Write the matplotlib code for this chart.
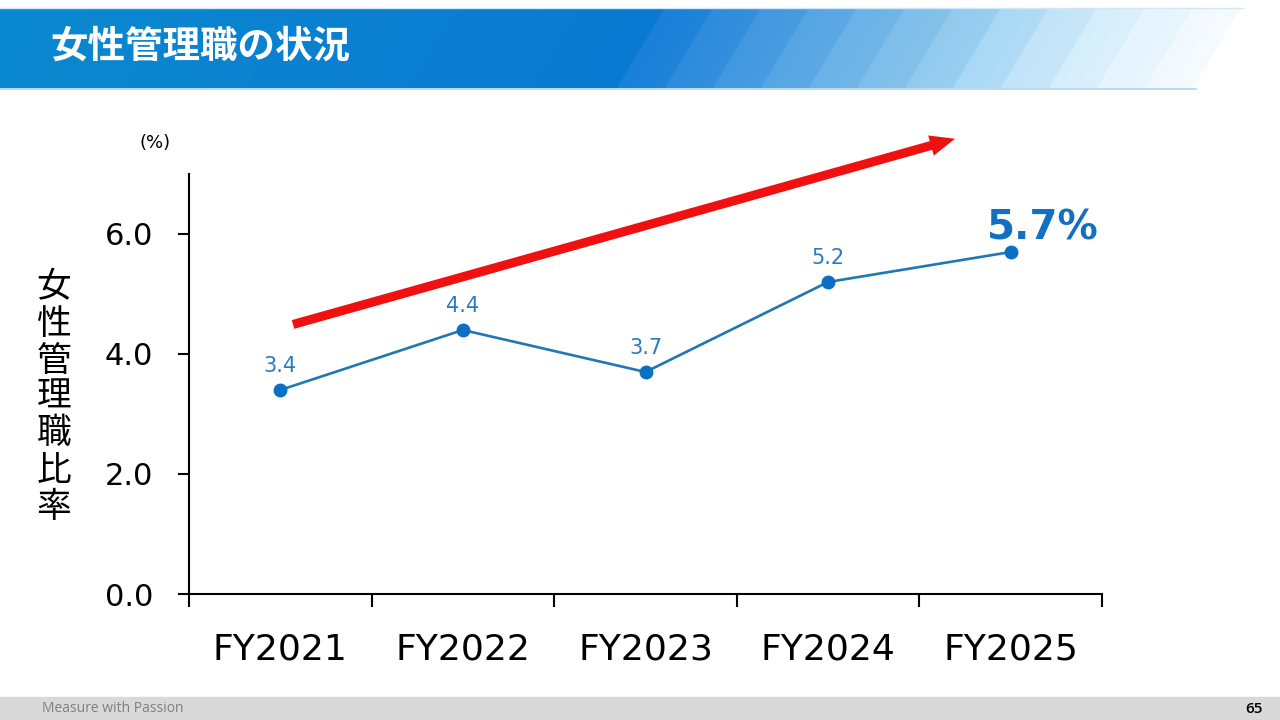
import numpy as np
import matplotlib
matplotlib.use("Agg")
import matplotlib.pyplot as plt
from matplotlib.patches import FancyArrowPatch, Rectangle
from matplotlib.colors import to_rgb

plt.rcParams['font.family'] = ['DejaVu Sans', 'Noto Sans CJK JP']

# ---- data ----
categories = ['FY2021', 'FY2022', 'FY2023', 'FY2024', 'FY2025']
ratio = [3.4, 4.4, 3.7, 5.2, 5.7]
yticks = [0.0, 2.0, 4.0, 6.0]
title = '女性管理職の状況'
ylabel = '女性管理職比率'
unit = '(%)'
footer = 'Measure with Passion'
page = '65'

W, H = 1280, 720
fig = plt.figure(figsize=(12.8, 7.2), dpi=100)

# ---- background decoration (pixel coords) ----
bg = fig.add_axes([0, 0, 1, 1], zorder=-1)
bg.set_xlim(0, W)
bg.set_ylim(H, 0)
bg.axis('off')

# header bar
top, bot = 8, 88
hh = bot - top
img = np.ones((hh, W, 4))
img[..., 3] = 0
xs = np.arange(W)[None, :] + 0.5
ys = np.arange(top, bot)[:, None] + 0.5
u = xs - 48 * (bot - ys) / hh
left_c0 = np.array(to_rgb('#0a88cf'))
left_c1 = np.array(to_rgb('#0b79d2'))
band_cols = ['#1a80d8', '#2e8cdc', '#4298df', '#56a5e3', '#6ab2e7', '#7ebeea',
             '#92caee', '#a9d8f5', '#c2e3f8', '#d6eefb', '#e6f4fd', '#f2f9fe']
band_cols = [np.array(to_rgb(c)) for c in band_cols]
u0, bw = 617, 48
nb = len(band_cols)
for i in range(hh):
    for j in range(W):
        uu = u[i, j]
        if uu < u0:
            t = max(uu, 0) / u0
            c = left_c0 * (1 - t) + left_c1 * t
        else:
            k = int((uu - u0) // bw)
            if k >= nb:
                continue
            f = ((uu - u0) % bw) / bw
            nxt = band_cols[k + 1] if k + 1 < nb else np.ones(3)
            c = band_cols[k] * (1 - 0.3 * f) + nxt * 0.3 * f
        img[i, j, :3] = c
        img[i, j, 3] = 1
bg.imshow(img, extent=(0, W, bot, top), aspect='auto', interpolation='nearest', zorder=0)
bg.plot([0, 1196], [bot + 1, bot + 1], color='#a9d6f2', lw=1.2, zorder=1)
bg.plot([0, 1243], [top - 0.5, top - 0.5], color='#cfe8f8', lw=1.0, zorder=1)
bg.text(50, 46, title, color='white', fontsize=27, fontweight='bold',
        family='Noto Sans CJK JP', va='center', ha='left', zorder=2)

# footer
bg.add_patch(Rectangle((0, 697), W, 23, color='#d9d9d9', zorder=0))
bg.text(42, 709, footer, color='#7f7f7f', fontsize=10, family='Open Sans',
        va='center', ha='left')
bg.text(1263, 709, page, color='#000000', fontsize=11, family='Open Sans',
        fontweight='semibold', va='center', ha='right')

# y label, stacked vertical characters
for i, ch in enumerate(ylabel):
    bg.text(54, 288 + i * 36.5, ch, fontsize=25, family='Noto Sans CJK JP',
            ha='center', va='center', color='black')
bg.text(155, 143, unit, fontsize=13, ha='center', va='center', color='black')

# ---- chart ----
ax = fig.add_axes([189 / W, 1 - 594 / H, (1102 - 189) / W, (594 - 174) / H])
x = np.arange(len(categories))
ax.plot(x, ratio, color='#1f77b4', lw=1.9, marker='o', markersize=9,
        markerfacecolor='#0b6fc4', markeredgecolor='#0b6fc4', zorder=3, clip_on=False)
ax.set_xlim(-0.5, len(categories) - 0.5)
ax.set_ylim(0, 7)
ax.set_yticks(yticks)
ax.set_yticklabels([f'{v:.1f}' for v in yticks], fontsize=22)
ax.set_xticks(np.arange(-0.5, len(categories), 1))
ax.set_xticklabels([])
ax.set_xticks(x, minor=True)
ax.set_xticklabels(categories, minor=True, fontsize=26)
ax.tick_params(axis='x', which='major', length=9, width=1.5, direction='out')
ax.tick_params(axis='x', which='minor', length=0, pad=28)
ax.tick_params(axis='y', length=8, width=1.5, direction='out', pad=18)
for s in ['top', 'right']:
    ax.spines[s].set_visible(False)
for s in ['left', 'bottom']:
    ax.spines[s].set_linewidth(1.5)
    ax.spines[s].set_color('black')

for xi, v in zip(x[:-1], ratio[:-1]):
    ax.annotate(f'{v:.1f}', (xi, v), xytext=(0, 17), textcoords='offset points',
                ha='center', va='center', fontsize=15, color='#2a7abf')
ax.annotate(f'{ratio[-1]:.1f}%', (x[-1], ratio[-1]), xytext=(23, 17),
            textcoords='offset points', ha='center', va='center', fontsize=29,
            fontweight='bold', color='#1170c0')

# trend arrow
arr = FancyArrowPatch((0.055, 4.48), (3.71, 7.6),
                      arrowstyle='simple,head_length=1.8,head_width=1.5,tail_width=0.65',
                      mutation_scale=10, color='#f01010', lw=0, clip_on=False, zorder=4)
ax.add_patch(arr)

fig.savefig('out.png', dpi=100)
